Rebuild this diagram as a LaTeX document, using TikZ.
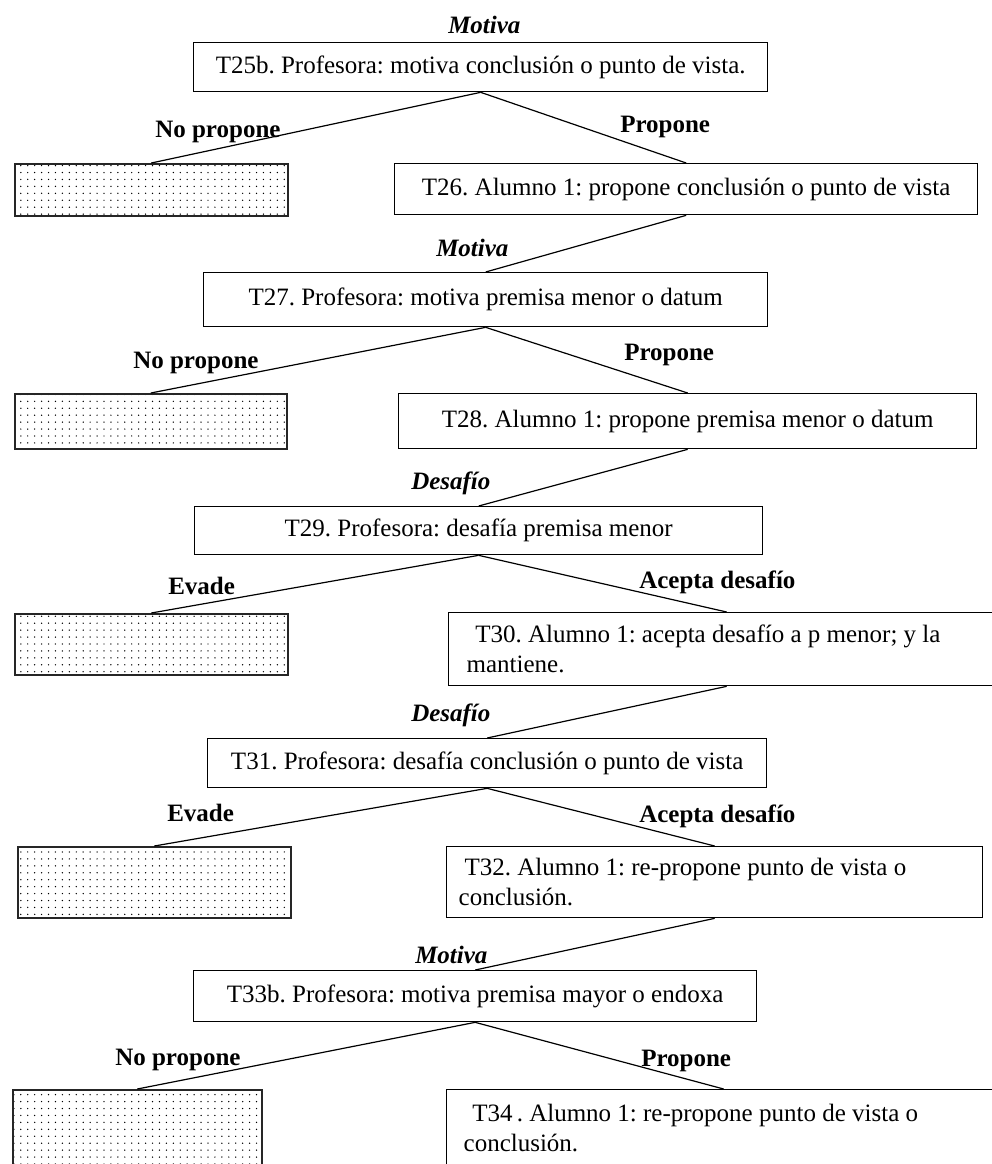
\documentclass[tikz,border=0pt]{standalone}
\usepackage{fontspec}
\setmainfont{Liberation Serif}
\usetikzlibrary{patterns.meta}
\frenchspacing
\begin{document}
\begin{tikzpicture}[x=0.75pt,y=-0.75pt,
  every node/.style={font=\fontsize{18.75}{22.5}\selectfont},
  turnbox/.style={draw=black, line width=1pt, fill=white, inner sep=0pt,
    anchor=north west},
  voidbox/.style={draw=black!85, line width=1.2pt, inner sep=0pt,
    anchor=north west, pattern={Dots[distance=5.2pt,radius=0.55pt]}},
  size/.style n args={2}{minimum width=#1*0.75pt, minimum height=#2*0.75pt},
  movelabel/.style={font=\fontsize{18.75}{22.5}\selectfont\bfseries\itshape,
    anchor=base west, inner sep=0pt},
  replylabel/.style={font=\fontsize{18.75}{22.5}\selectfont\bfseries,
    anchor=base west, inner sep=0pt},
  conn/.style={line width=0.9pt},
  twoline/.style={align=flush left, text width=#1}
]
\useasboundingbox (0,0) rectangle (992,1164);
\clip (0,0) rectangle (992,1164);

% turns of the dialogue
\node[turnbox, size={574}{49}] (t25) at (193,42) {T25b. Profesora: motiva conclusión o punto de vista.};
\node[voidbox, size={273}{52}] (d1) at (14,163) {};
\node[turnbox, size={583}{51}] (t26) at (394,163) {T26. Alumno 1: propone conclusión o punto de vista};

\node[turnbox, size={564}{54}] (t27) at (203,272) {T27. Profesora: motiva premisa menor o datum};
\node[voidbox, size={272}{55}] (d2) at (14,393) {};
\node[turnbox, size={578}{55}] (t28) at (398,393) {T28. Alumno 1: propone premisa menor o datum};

\node[turnbox, size={568}{48}] (t29) at (194,506) {T29. Profesora: desafía premisa menor};
\node[voidbox, size={273}{61}] (d3) at (14,613) {};
\node[turnbox, size={556}{73}, twoline=390pt] (t30) at (448,612)
  {\hspace*{6.5pt}T30. Alumno 1: acepta desafío a p menor; y la\\mantiene.};

\node[turnbox, size={559}{49}] (t31) at (207,738) {T31. Profesora: desafía conclusión o punto de vista};
\node[voidbox, size={273}{71}] (d4) at (17,846) {};
\node[turnbox, size={536}{71}, twoline=384pt] (t32) at (446,846)
  {\hspace*{4.5pt}T32. Alumno 1: re-propone punto de vista o\\conclusión.};

\node[turnbox, size={563}{51}] (t33) at (193,970) {T33b. Profesora: motiva premisa mayor o endoxa};
\node[voidbox, size={249}{90}] (d5) at (12,1089) {};
\node[turnbox, size={554}{76}, twoline=390pt] (t34) at (446,1089)
  {\hspace*{6.5pt}T34\,. Alumno 1: re-propone punto de vista o\\conclusión.};

% branches
\draw[conn] (t25.south) -- (d1.north);
\draw[conn] (t25.south) -- (t26.north);
\draw[conn] (t26.south) -- (t27.north);
\draw[conn] (t27.south) -- (d2.north);
\draw[conn] (t27.south) -- (t28.north);
\draw[conn] (t28.south) -- (t29.north);
\draw[conn] (t29.south) -- (d3.north);
\draw[conn] (t29.south) -- (t30.north);
\draw[conn] (t30.south) -- (t31.north);
\draw[conn] (t31.south) -- (d4.north);
\draw[conn] (t31.south) -- (t32.north);
\draw[conn] (t32.south) -- (t33.north);
\draw[conn] (t33.south) -- (d5.north);
\draw[conn] (t33.south) -- (t34.north);

% labels of the moves and replies
\node[movelabel] (m1) at (448,33) {Motiva};
\node[replylabel] (n1) at (155,137) {No propone};
\node[replylabel] (p1) at (620,132) {Propone};
\node[movelabel] (m2) at (436,256) {Motiva};
\node[replylabel] (n2) at (133,368) {No propone};
\node[replylabel] (p2) at (624,360) {Propone};
\node[movelabel] (m3) at (411,489) {Desafío};
\node[replylabel] (e1) at (168,594) {Evade};
\node[replylabel] (a1) at (639,588) {Acepta desafío};
\node[movelabel] (m4) at (411,721) {Desafío};
\node[replylabel] (e2) at (167,821) {Evade};
\node[replylabel] (a2) at (639,822) {Acepta desafío};
\node[movelabel] (m5) at (415,963) {Motiva};
\node[replylabel] (n3) at (115,1065) {No propone};
\node[replylabel] (p3) at (641,1066) {Propone};
\end{tikzpicture}
\end{document}
